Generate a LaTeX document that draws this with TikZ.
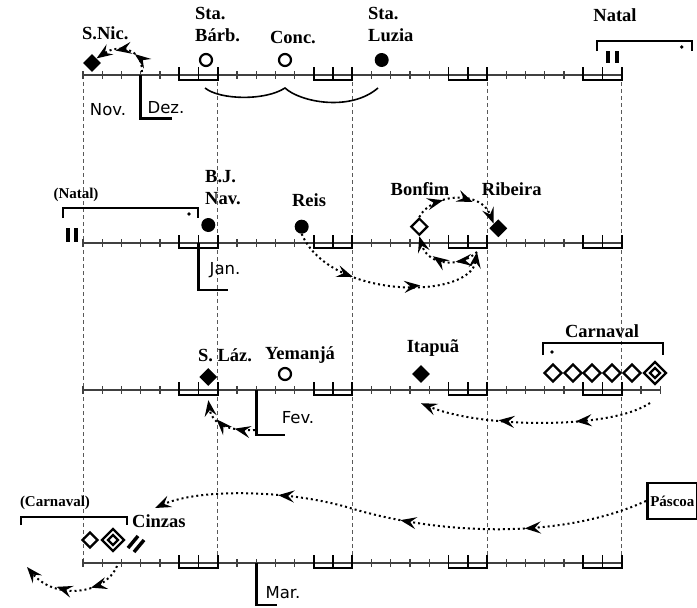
\documentclass[tikz,border=0pt]{standalone}
\usepackage{fontspec}
\newfontfamily\evfont{Liberation Serif}
\newfontfamily\monfont{DejaVu Sans}
\usetikzlibrary{arrows.meta,shapes.geometric,decorations.markings}

\begin{document}
\begin{tikzpicture}[x=1pt, y=-1pt,
  axis/.style={line width=1.8pt, black!75},
  tick/.style={line width=1.2pt, black!75},
  wkend/.style={line width=1.8pt},
  grid/.style={black!65, line width=1pt, dash pattern=on 4pt off 3pt},
  monthL/.style={line width=2.6pt},
  period/.style={line width=1.6pt},
  lbl/.style={font=\evfont\bfseries\fontsize{18.5}{22}\selectfont, inner sep=0pt, align=left},
  sublbl/.style={font=\evfont\bfseries\fontsize{15}{18}\selectfont, inner sep=0pt},
  mon/.style={font=\monfont\fontsize{16.5}{20}\selectfont, inner sep=0pt},
  fulldot/.style={circle, fill, inner sep=0pt, minimum size=14pt},
  opendot/.style={circle, draw, line width=2.2pt, inner sep=0pt, minimum size=12pt},
  fulldia/.style={diamond, fill, inner sep=0pt, minimum size=18pt},
  opendia/.style={diamond, draw, line width=2.2pt, inner sep=0pt, minimum size=#1},
  opendia/.default=17pt,
  head/.tip={Stealth[length=16pt,width=12pt,inset=6pt]},
  flow/.style={line width=2pt, dash pattern=on 2pt off 3pt, -head, postaction=decorate,
    decoration={markings,
      mark=between positions #1 and 0.97 step #1 with {\arrow{head}}}}]
  \useasboundingbox (0,0) rectangle (697,608);

  % week lines
  \foreach \k in {0,...,4}
    \draw[grid] ({83+7*\k*19.24},75) -- ({83+7*\k*19.24},563);

  % the four rows of days
  \foreach \ry/\nd in {75/28,243/28,390/30,563/28} {
    \draw[axis] (83,\ry) -- ({83+\nd*19.24},\ry);
    \foreach \i in {0,...,\nd}
      \draw[tick] ({83+\i*19.24},\ry-4) -- ({83+\i*19.24},\ry+4);
    \foreach \w in {0,...,3} {
      \draw[wkend] ({83+(7*\w+5)*19.24},\ry-8) |- ({83+(7*\w+7)*19.24},\ry+5) -- ++(0,-13);
      \draw[wkend] ({83+(7*\w+6)*19.24},\ry-8) -- ++(0,13);
    }
  }

  % months
  \draw[monthL] (140.7,75) |- (171.5,118.5);
  \draw[monthL] (198.4,243) |- (228,290);
  \draw[monthL] (256.2,390) |- (285,435);
  \draw[monthL] (256.2,563) |- (277,605);
  \node[mon] (nov) at (108,110) {Nov.};
  \node[mon] (dez) at (166,108) {Dez.};
  \node[mon] (jan) at (225,270) {Jan.};
  \node[mon] (fev) at (298,418) {Fev.};
  \node[mon] (mar) at (283,593) {Mar.};

  % row 1
  \node[fulldia] (snic) at (92,63) {};
  \node[lbl, anchor=west] (snicl) at (82,33) {S.Nic.};
  \node[opendot] (barb) at (206,60) {};
  \node[lbl, anchor=north west] (barbl) at (195,7.5) {Sta.\\Bárb.};
  \node[opendot] (conc) at (285,60) {};
  \node[lbl] (concl) at (293,38) {Conc.};
  \node[fulldot] (luzia) at (381.7,60) {};
  \node[lbl, anchor=north west] (luzial) at (368,7.5) {Sta.\\Luzia};
  \node[lbl] (natall) at (615,15) {Natal};
  \draw[period] (597,51) |- (692,41) -- (692,51);
  \fill (681.7,47) circle (1.8pt);
  \draw[line width=3.5pt] (608,51) -- (608,63) (617,51) -- (617,63);
  \draw[line width=1.6pt] (205,88) .. controls (220,100) and (265,101) .. (285,88)
    .. controls (300,102) and (350,112) .. (378,88);
  \coordinate (dezpt) at (142,72);
  \draw[flow=0.33] (dezpt) .. controls (143,48) and (118,44) .. (snic.north east);

  % row 2
  \node[sublbl] (natal2) at (76,195) {(Natal)};
  \draw[period] (63,218) |- (198,208) -- (198,218);
  \fill (189,214) circle (1.8pt);
  \draw[line width=3.5pt] (68,228) -- (68,242) (76,228) -- (76,242);
  \node[fulldot] (bjnav) at (208.3,225) {};
  \node[lbl, anchor=north west] (bjnavl) at (205,170.5) {B.J.\\Nav.};
  \node[fulldot] (reis) at (301.7,226.7) {};
  \node[lbl] (reisl) at (309,200) {Reis};
  \node[opendia] (bonf) at (419.3,226.7) {};
  \node[lbl] (bonfl) at (420,189) {Bonfim};
  \node[fulldia] (ribe) at (498.3,228.3) {};
  \node[lbl] (ribel) at (511.7,189) {Ribeira};
  \coordinate (turn) at (477,252);
  \draw[flow=0.33] (reis.south) .. controls (330,300) and (470,300) .. (turn);
  \draw[flow=0.33] (turn) .. controls (460,268) and (428,266) .. (bonf.south);
  \draw[flow=0.33] (bonf.north) .. controls (430,195) and (480,188) .. (ribe.north west);

  % row 3
  \node[fulldia] (slaz) at (208.3,377) {};
  \node[lbl] (slazl) at (225,355) {S. Láz.};
  \node[opendot] (yem) at (285,374) {};
  \node[lbl] (yeml) at (300,355) {Yemanjá};
  \node[fulldia] (itap) at (421,374) {};
  \node[lbl] (itapl) at (433,348) {Itapuã};
  \node[lbl] (carnl) at (602,331) {Carnaval};
  \draw[period] (543,355) |- (663,343) -- (663,355);
  \fill (552,352) circle (1.8pt);
  \foreach \x in {553,573,592,612,632}
    \node[opendia=18pt] (car\x) at (\x,373) {};
  \node[opendia=23pt] (cart) at (655,373) {};
  \node[opendia=11pt] (cartin) at (655,373) {};
  \coordinate (fevpt) at (255,430);
  \draw[flow=0.33] (fevpt) .. controls (230,431) and (212,425) .. ([yshift=-14pt]slaz.south);
  \coordinate (carpt) at (650,403);
  \draw[flow=0.33] (carpt) .. controls (610,430) and (480,428) .. ([yshift=-20pt]itap.south);

  % row 4
  \node[sublbl] (carn2) at (55,503) {(Carnaval)};
  \draw[period] (21,525) |- (126.7,517) -- (126.7,525);
  \node[lbl, anchor=west] (cinzl) at (132,521) {Cinzas};
  \node[opendia=16pt] (cz1) at (90,540) {};
  \node[opendia=23pt] (cz2) at (113,540) {};
  \node[opendia=11pt] (cz2in) at (113,540) {};
  \draw[line width=3.5pt] (128,548) -- (138,536) (134,552) -- (144,540);
  \node[draw, line width=2.6pt, font=\evfont\bfseries\fontsize{15}{18}\selectfont,
    anchor=west, inner xsep=3pt, minimum height=36pt] (pasc) at (646,501) {Páscoa};
  \coordinate (czin) at (155,508);
  \draw[flow=0.25] (pasc.west) .. controls (560,540) and (440,535) .. (350,508)
    .. controls (290,490) and (200,488) .. (czin);
  \coordinate (czpt) at (117,566);
  \coordinate (czend) at (27,567);
  \draw[flow=0.33] (czpt) .. controls (105,595) and (55,600) .. (czend);
\end{tikzpicture}
\end{document}
